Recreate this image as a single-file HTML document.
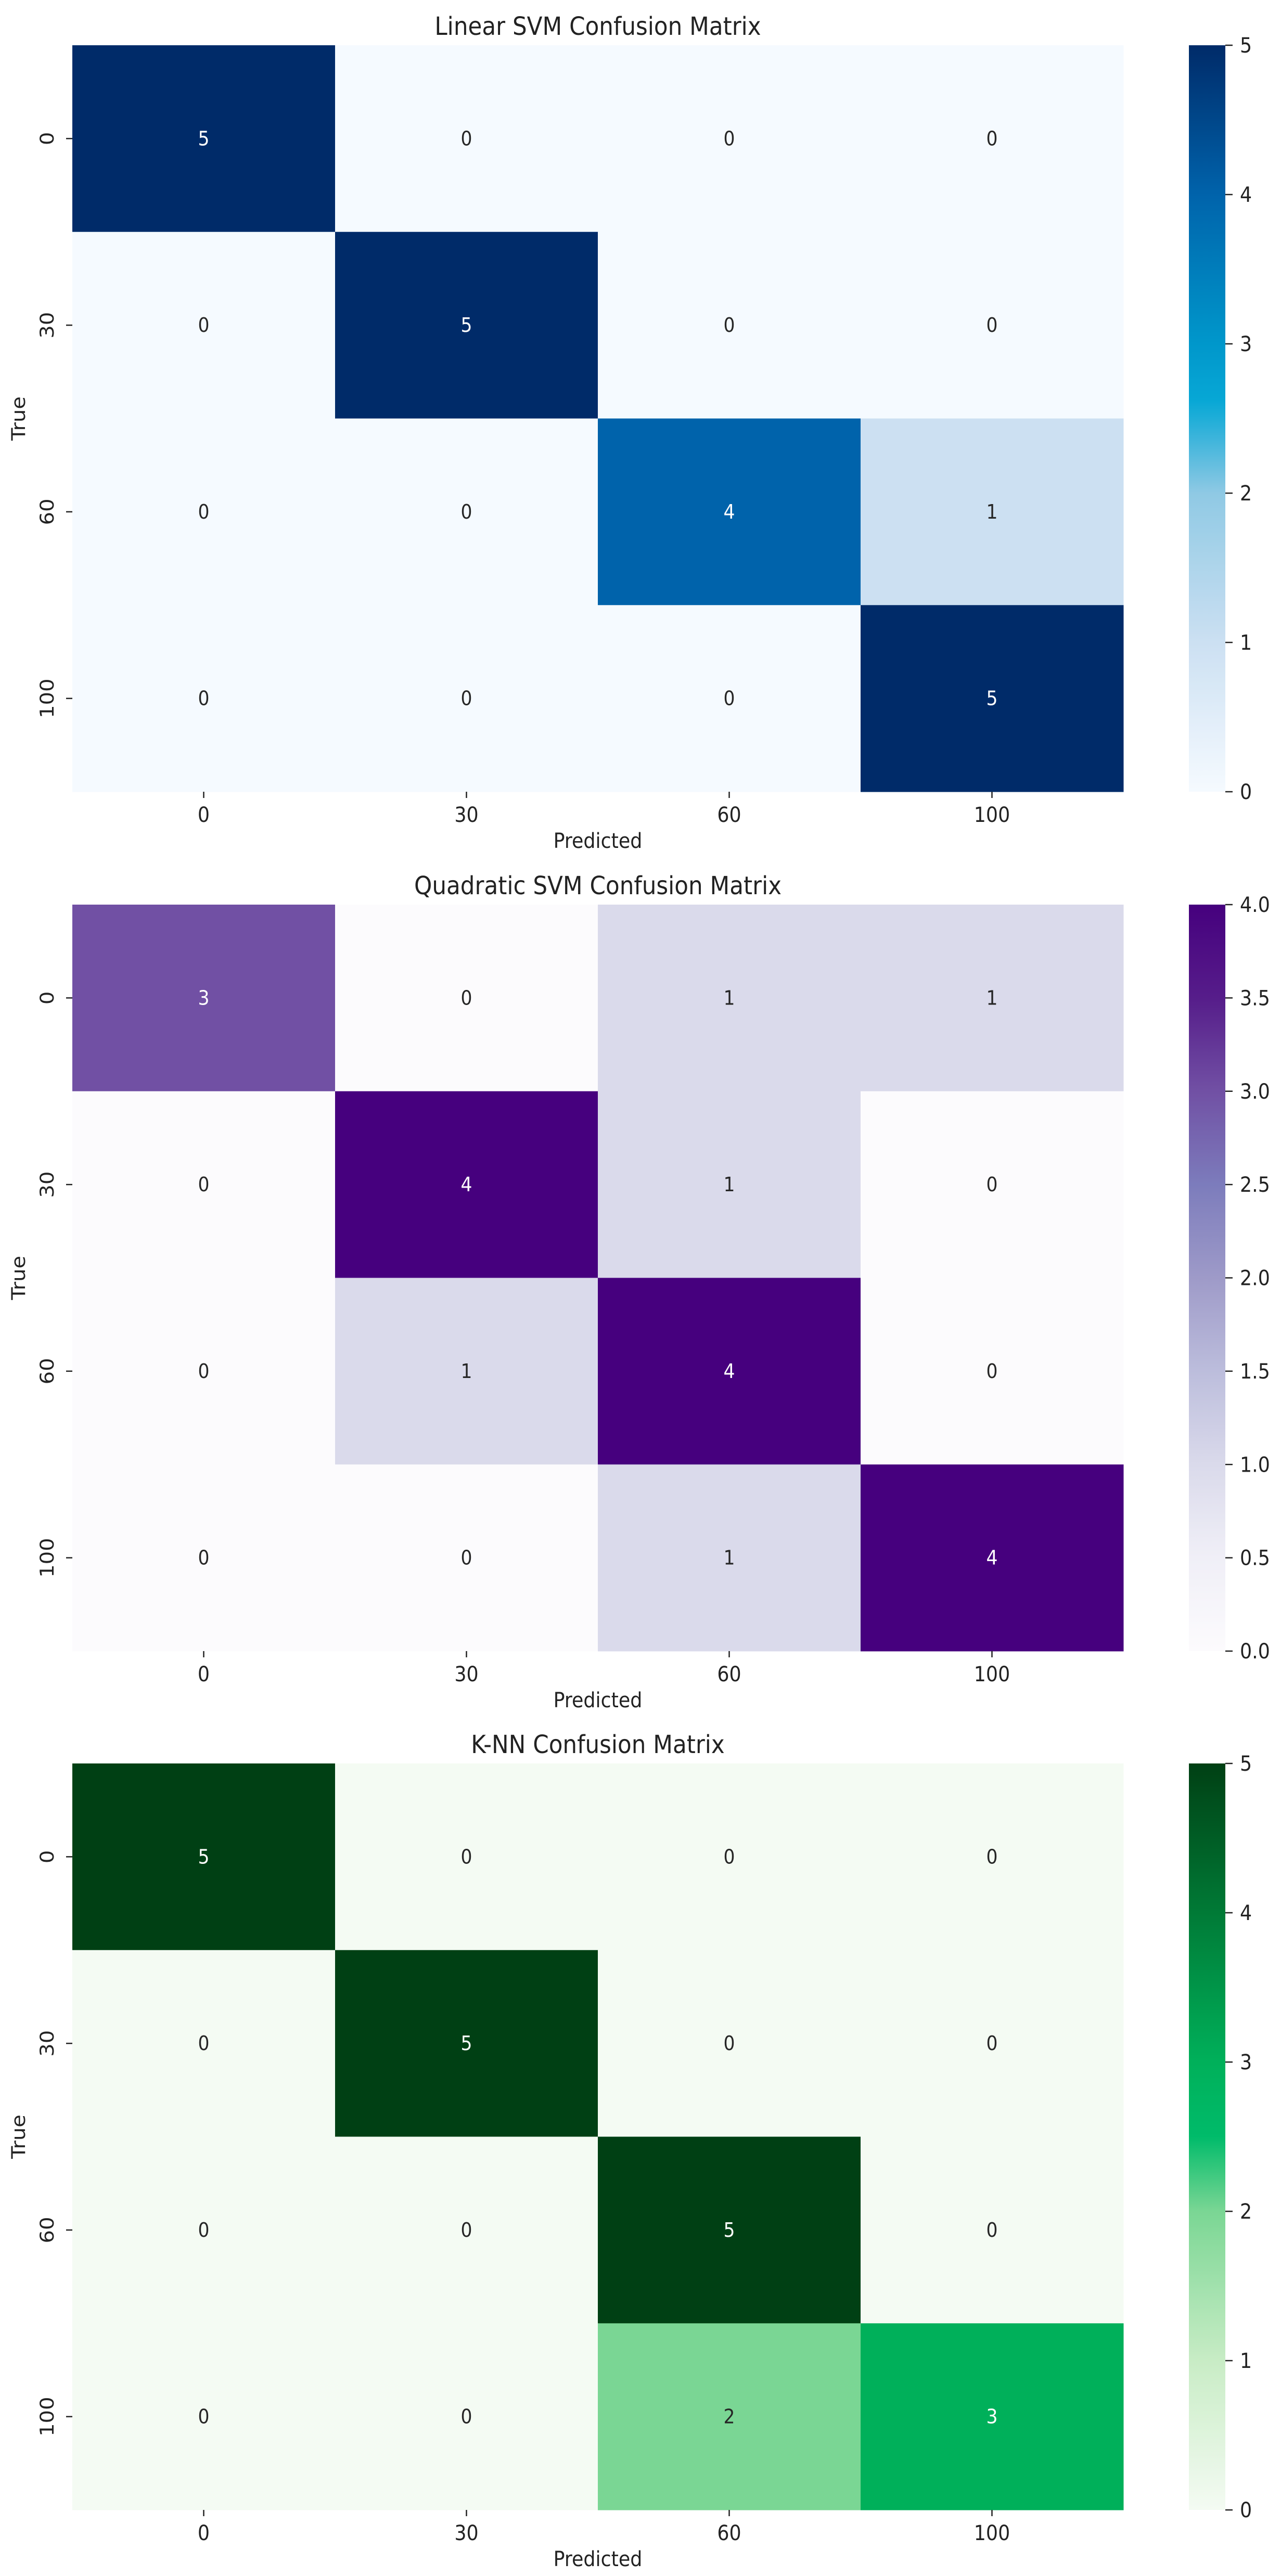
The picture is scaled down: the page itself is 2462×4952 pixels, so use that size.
<!DOCTYPE html>
<html><head><meta charset="utf-8">
<style>
html,body{margin:0;padding:0;background:#fff;}
svg{display:block;}
text{font-family:"DejaVu Sans","Liberation Sans",sans-serif;}
</style></head>
<body>
<svg id="fig" width="2462" height="4952" viewBox="0 0 2462 4952" xmlns="http://www.w3.org/2000/svg">
<defs></defs>
</svg>
<script>
// ---- data ----
const categories = ["0", "30", "60", "100"];
const titles = ["Linear SVM Confusion Matrix", "Quadratic SVM Confusion Matrix", "K-NN Confusion Matrix"];
const linearValues = [[5,0,0,0],[0,5,0,0],[0,0,4,1],[0,0,0,5]];
const quadraticValues = [[3,0,1,1],[0,4,1,0],[0,1,4,0],[0,0,1,4]];
const knnValues = [[5,0,0,0],[0,5,0,0],[0,0,5,0],[0,0,2,3]];
const linearTicks = ["0","1","2","3","4","5"];
const quadraticTicks = ["0.0","0.5","1.0","1.5","2.0","2.5","3.0","3.5","4.0"];
const knnTicks = ["0","1","2","3","4","5"];
const linearMax = 5, quadraticMax = 4, knnMax = 5;

// colormaps: [fraction, color]
const blues = [[0,"#f5faff"],[0.2,"#cce0f2"],[0.4,"#8fc9e4"],[0.52,"#08a8d6"],[0.6,"#0097cb"],[0.8,"#0063ab"],[1,"#002b69"]];
const purples = [[0,"#fcfbfd"],[0.125,"#f0eff7"],[0.25,"#dadaeb"],[0.375,"#bcbddc"],[0.5,"#9e9ac8"],[0.625,"#7c7cbc"],[0.75,"#7150a4"],[0.875,"#561d8a"],[1,"#46007e"]];
const greens = [[0,"#f4fbf3"],[0.2,"#c8ecc5"],[0.4,"#7ad694"],[0.5,"#00bb6a"],[0.6,"#00b05a"],[0.8,"#007a36"],[1,"#004014"]];

const panels = [
  {title:titles[0], values:linearValues, ticks:linearTicks, vmax:linearMax, cmap:blues, top:87, key:"linear"},
  {title:titles[1], values:quadraticValues, ticks:quadraticTicks, vmax:quadraticMax, cmap:purples, top:1739, key:"quadratic"},
  {title:titles[2], values:knnValues, ticks:knnTicks, vmax:knnMax, cmap:greens, top:3390, key:"knn"}
];

const NS = "http://www.w3.org/2000/svg";
const svg = document.getElementById("fig");
const defs = svg.querySelector("defs");
const L = 139, R = 2159, H = 1435, CBL = 2285, CBR = 2355, SX = 0.91;

function hex2rgb(h){return [parseInt(h.slice(1,3),16),parseInt(h.slice(3,5),16),parseInt(h.slice(5,7),16)];}
function cmapColor(cm, t){
  t=Math.max(0,Math.min(1,t));
  for(let i=1;i<cm.length;i++){
    if(t<=cm[i][0]){
      const a=cm[i-1],b=cm[i];const f=(t-a[0])/(b[0]-a[0]||1);
      const ca=hex2rgb(a[1]),cb=hex2rgb(b[1]);
      return ca.map((v,k)=>Math.round(v+(cb[k]-v)*f));
    }
  }
  return hex2rgb(cm[cm.length-1][1]);
}
function el(tag, attrs, parent){
  const e=document.createElementNS(NS,tag);
  for(const k in attrs) e.setAttribute(k,attrs[k]);
  (parent||svg).appendChild(e);return e;
}
function txt(str,x,y,size,anchor,rot,parent,fill){
  const g=el("g",{transform:`translate(${x},${y}) scale(${SX},1)`+(rot?` rotate(${rot})`:"")},parent);
  const t=el("text",{x:0,y:0,"font-size":size,"text-anchor":anchor,style:"fill:"+(fill||"#222")},g);
  t.textContent=str;return t;
}

panels.forEach((p,pi)=>{
  const g=el("g",{});
  
  
  const top=p.top, bottom=top+H;
  const n=categories.length, cw=(R-L)/n, ch=H/n;
  const xScale=i=>L+i*cw, yScale=i=>top+i*ch;
  const cScale=v=>bottom-(v/p.vmax)*H;

  const t=txt(p.title,(L+R)/2,top-20,48,"middle",0,g);
  
  

  p.values.forEach((row,r)=>{
    row.forEach((v,c)=>{
      const rgb=cmapColor(p.cmap,v/p.vmax);
      const rect=el("rect",{x:xScale(c),y:yScale(r),width:cw+0.5,height:ch+0.5,fill:`rgb(${rgb.join(",")})`},g);
      
      
      const lum=0.299*rgb[0]+0.587*rgb[1]+0.114*rgb[2];
      const a=txt(String(v),xScale(c)+cw/2,yScale(r)+ch/2+13,38,"middle",0,g,lum<140?"#ffffff":"#262626");
      
      
    });
  });

  categories.forEach((c,i)=>{
    const cx=xScale(i)+cw/2;
    el("line",{x1:cx,x2:cx,y1:bottom,y2:bottom+12,stroke:"#222","stroke-width":2.5},g);
    const xt=txt(c,cx,bottom+58,40,"middle",0,g);
    
    
    const cy=yScale(i)+ch/2;
    el("line",{x1:L-12,x2:L,y1:cy,y2:cy,stroke:"#222","stroke-width":2.5},g);
    const yt=txt(c,103,cy,40,"middle",-90,g);
    
    
  });

  const xl=txt("Predicted",(L+R)/2,bottom+108,40,"middle",0,g);
  
  
  const yl=txt("True",48,top+H/2,40,"middle",-90,g);
  
  

  // colorbar
  const gid="grad"+pi;
  const lg=el("linearGradient",{id:gid,x1:0,y1:1,x2:0,y2:0},defs);
  for(let k=0;k<=40;k++){
    const f=k/40;const rgb=cmapColor(p.cmap,f);
    el("stop",{offset:f,"stop-color":`rgb(${rgb.join(",")})`},lg);
  }
  const cb=el("rect",{x:CBL,y:top,width:CBR-CBL,height:H,fill:`url(#${gid})`},g);
  
  
  p.ticks.forEach(tk=>{
    const y=cScale(parseFloat(tk));
    el("line",{x1:CBR,x2:CBR+14,y1:y,y2:y,stroke:"#222","stroke-width":2.5},g);
    const ct=txt(tk,CBR+28,y+14,40,"start",0,g);
    
    
  });
});
</script>
</body></html>
